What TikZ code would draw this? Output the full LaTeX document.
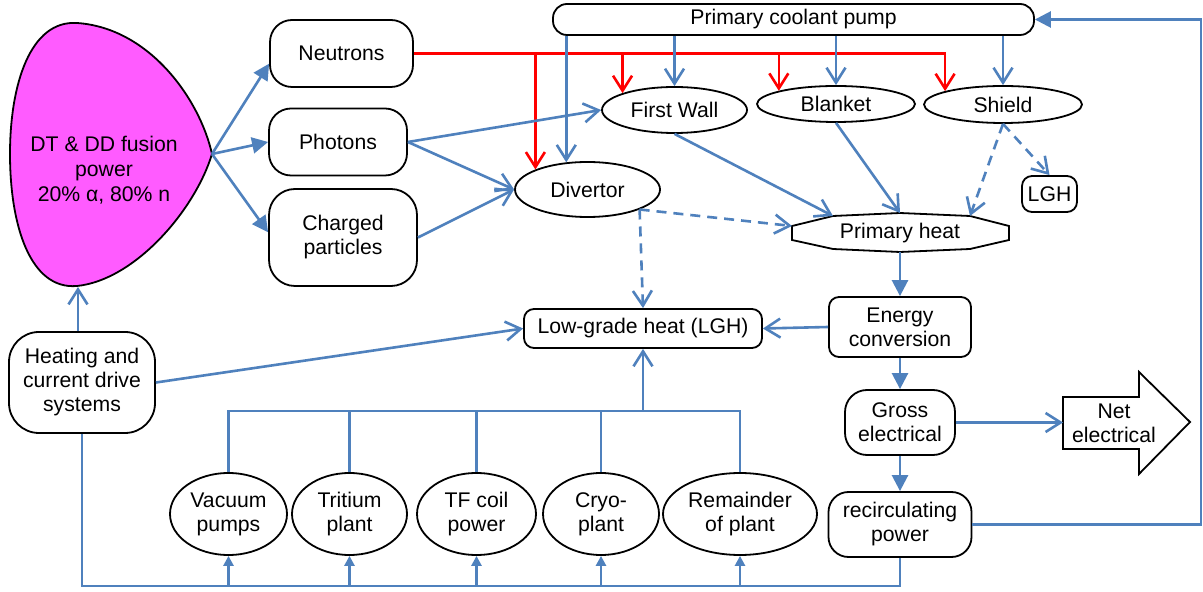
\documentclass[tikz,border=0pt]{standalone}
\usepackage{fontspec}
\setmainfont{Liberation Sans}
\usetikzlibrary{arrows.meta,calc,shapes.geometric}
\definecolor{lblue}{HTML}{4F81BD}
\definecolor{plasmafill}{HTML}{FF5BFF}
\begin{document}
\begin{tikzpicture}[x=0.5pt,y=-0.5pt,
  font=\fontsize{10.6}{12}\selectfont,
  box/.style={draw=black,line width=0.9pt,rounded corners=#1,align=center,inner sep=0pt},
  box/.default=5pt,
  ell/.style={draw=black,ellipse,line width=0.9pt,align=center,inner sep=0pt},
  conn/.style={draw=lblue,line width=1.3pt},
  redconn/.style={draw=red,line width=1.3pt},
  op/.style={-{Straight Barb[length=7.5pt,width=9.5pt]}},
  fl/.style={-{Triangle[length=8pt,width=8pt]}},
  sm/.style={-{Triangle[length=5pt,width=5pt]}},
  dsh/.style={dash pattern=on 5pt off 3.5pt}]
\useasboundingbox[fill=white] (0,0) rectangle (1203,592);

% plasma
\path[draw=black,fill=plasmafill,line width=0.9pt]
  (77,23) .. controls (150,28) and (200,100) .. (212,154)
  .. controls (195,210) and (135,280) .. (77,286)
  .. controls (30,290) and (10,225) .. (10,154)
  .. controls (10,85) and (30,20) .. (77,23) -- cycle;
\node[align=center,inner sep=0pt,font=\fontsize{10.6}{12.5}\selectfont] (plasma) at (104,170) {DT \& DD fusion\\power\\20\% α, 80\% n};
\coordinate (tip) at (212,154);
\coordinate (pbot) at (78,287);

% nodes
\node[box=11pt, minimum width=71.5pt, minimum height=33.5pt] (neutrons) at (341.5,53.5) {Neutrons};
\node[box=11pt, minimum width=69pt, minimum height=33.5pt] (photons) at (338,142) {Photons};
\node[box=13pt, minimum width=74pt, minimum height=48.5pt] (charged) at (343,237.5) {Charged\\particles};
\node[box=7pt, minimum width=240.5pt, minimum height=15.5pt] (pump) at (793.5,19.5) {Primary coolant pump};
\node[ell, minimum width=72.5pt, minimum height=23pt] (fw) at (674.5,110) {First Wall};
\node[ell, minimum width=79pt, minimum height=18pt] (blanket) at (836,104) {Blanket};
\node[ell, minimum width=79pt, minimum height=18.5pt] (shield) at (1003,104.5) {Shield};
\node[ell, minimum width=72.5pt, minimum height=27.5pt] (divertor) at (587.5,189.5) {Divertor};
\node[box=5pt, minimum width=27.5pt, minimum height=18pt] (lghs) at (1049.5,194) {LGH};
\node[box=5pt, minimum width=119pt, minimum height=19.5pt] (lgh) at (643,328.5) {Low-grade heat (LGH)};
\node[box=5pt, minimum width=71pt, minimum height=30pt] (ec) at (900,327) {Energy\\conversion};
\node[box=11pt, minimum width=55pt, minimum height=32.5pt] (gross) at (900,422.5) {Gross\\electrical};
\node[box=10pt, minimum width=71.5pt, minimum height=32.5pt] (recirc) at (900,524.5) {recirculating\\power};
\node[box=15pt, minimum width=73pt, minimum height=50.5pt] (heating) at (82,382.5) {Heating and\\current drive\\systems};
\node[ell, minimum width=58.5pt, minimum height=41pt] (vac) at (228.5,514) {Vacuum\\pumps};
\node[ell, minimum width=57.5pt, minimum height=41pt] (trit) at (349.5,514) {Tritium\\plant};
\node[ell, minimum width=59.5pt, minimum height=41pt] (tf) at (476.5,514) {TF coil\\power};
\node[ell, minimum width=58pt, minimum height=41pt] (cryo) at (601,514) {Cryo-\\plant};
\node[ell, minimum width=77pt, minimum height=41pt] (rem) at (740,514) {Remainder\\of plant};

% primary heat polygon
\coordinate (ph1) at (792,226);
\coordinate (ph2) at (833,216);
\coordinate (ph3) at (900,213);
\coordinate (ph4) at (970,216);
\coordinate (ph5) at (1009,226);
\coordinate (ph6) at (1009,240);
\coordinate (ph7) at (970,249);
\coordinate (ph8) at (900,252);
\coordinate (ph9) at (833,249);
\coordinate (ph10) at (792,240);
\draw[line width=0.9pt] (ph1) -- (ph2) -- (ph3) -- (ph4) -- (ph5) -- (ph6) -- (ph7) -- (ph8) -- (ph9) -- (ph10) -- cycle;
\node[inner sep=0pt] (pheat) at (900,233) {Primary heat};

% net electrical arrow
\coordinate (n1) at (1063,397);
\coordinate (n2) at (1139,397);
\coordinate (n3) at (1139,372);
\coordinate (n4) at (1190,422);
\coordinate (n5) at (1139,474);
\coordinate (n6) at (1139,449);
\coordinate (n7) at (1063,449);
\draw[line width=0.9pt,line join=miter] (n1) -- (n2) -- (n3) -- (n4) -- (n5) -- (n6) -- (n7) -- cycle;
\node[align=center,inner sep=0pt] (net) at (1114,423) {Net\\electrical};

% plasma outputs
\draw[conn,fl] (tip) -- (neutrons.188);
\draw[conn,fl] (tip) -- (photons.west);
\draw[conn,fl] (tip) -- (charged.176);

% red neutron lines
\draw[redconn,op] (neutrons.east) -| (shield.167);
\draw[redconn,op] (neutrons.east -| divertor.159) -- (divertor.159);
\draw[redconn,op] (neutrons.east -| fw.162) -- (fw.162);
\draw[redconn,op] (neutrons.east -| blanket.167) -- (blanket.167);

% coolant pump lines
\draw[conn,op] (pump.south -| divertor.128) -- (divertor.128);
\draw[conn,op] (pump.south -| fw.north) -- (fw.north);
\draw[conn,op] (pump.south -| blanket.north) -- (blanket.north);
\draw[conn,op] (pump.south -| shield.north) -- (shield.north);

% photons / charged
\draw[conn,op] (photons.east) -- (fw.west);
\draw[conn,op] (photons.east) -- (divertor.west);
\draw[conn,op] (charged.east) -- (divertor.west);

% to primary heat
\draw[conn,op] (fw.south) -- (ph2);
\draw[conn,op] (blanket.south) -- (ph3);
\draw[conn,op,dsh] (shield.south) -- (ph4);
\draw[conn,op,dsh] (shield.south) -- (lghs.north);
\draw[conn,op,dsh] (divertor.339) -- (ph1);
\draw[conn,op,dsh] (divertor.339) -- (lgh.north);

% energy chain
\draw[conn,fl] (ph8) -- (ec.north);
\draw[conn,op] (ec.west) -- (lgh.east);
\draw[conn,fl] (ec.south) -- (gross.north);
\draw[conn,fl] (gross.south) -- (recirc.north);
\draw[conn,op] (gross.east) -- (gross.east -| n1);

% recirculating loops
\coordinate (rtop) at (1201,19.5);
\draw[conn,fl] (recirc.east) -| (rtop) -- (pump.east);
\coordinate (rbot) at (900,586);
\draw[conn] (recirc.south) -- (rbot) -| (heating.south);
\draw[conn,sm] (vac.south |- rbot) -- (vac.south);
\draw[conn,sm] (trit.south |- rbot) -- (trit.south);
\draw[conn,sm] (tf.south |- rbot) -- (tf.south);
\draw[conn,sm] (cryo.south |- rbot) -- (cryo.south);
\draw[conn,sm] (rem.south |- rbot) -- (rem.south);

% heating
\draw[conn,op] (heating.north -| pbot) -- (pbot);
\draw[conn,op] (heating.east) -- (lgh.west);

% plant bus to LGH
\coordinate (bus) at (643,411);
\draw[conn] (vac.north) |- (rem.north |- bus) -- (rem.north);
\draw[conn] (trit.north) -- (trit.north |- bus);
\draw[conn] (tf.north) -- (tf.north |- bus);
\draw[conn] (cryo.north) -- (cryo.north |- bus);
\draw[conn,op] (bus) -- (lgh.south);
\end{tikzpicture}
\end{document}
